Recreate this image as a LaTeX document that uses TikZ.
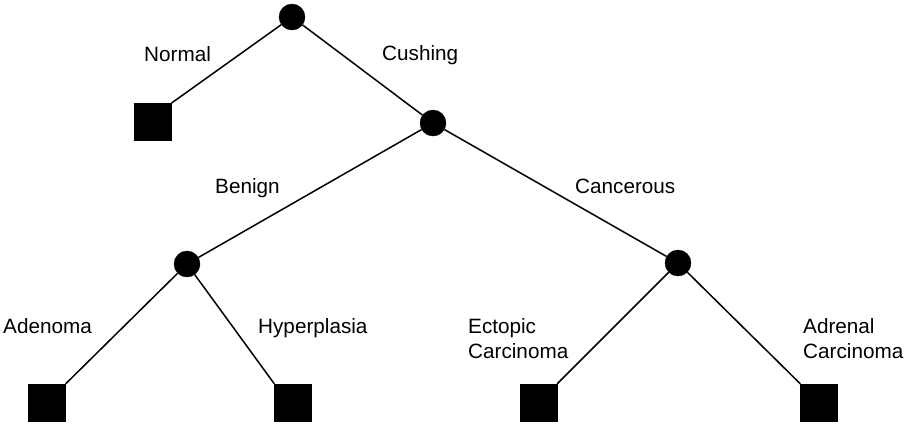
\documentclass[tikz,border=0pt]{standalone}
\usepackage{fontspec}
\setmainfont{Liberation Sans}
\begin{document}
\begin{tikzpicture}[x=1pt,y=-1pt,
  chance/.style={circle,fill=black,draw=black,minimum size=26pt,inner sep=0pt},
  outcome/.style={rectangle,fill=black,draw=black,minimum size=37pt,inner sep=0pt},
  branch/.style={draw=black,line width=1.5pt},
  lbl/.style={inner sep=0pt,font=\fontsize{20.7}{25}\selectfont},
  lbl2/.style={lbl,align=left,anchor=north west}]
\useasboundingbox (0,0) rectangle (908,424);

% chance nodes
\node[chance] (root) at (292,17) {};
\node[chance] (cush) at (433,123) {};
\node[chance] (ben) at (187,264) {};
\node[chance] (canc) at (678,263) {};

% terminal outcomes
\node[outcome] (norm) at (152.5,122) {};
\node[outcome] (aden) at (47,402.5) {};
\node[outcome] (hyper) at (293,402.5) {};
\node[outcome] (ecto) at (538.5,402.5) {};
\node[outcome] (adre) at (819,402.5) {};

% branches
\draw[branch] (root) -- (norm.north east);
\draw[branch] (root) -- (cush);
\draw[branch] (cush) -- (ben);
\draw[branch] (cush) -- (canc);
\draw[branch] (ben) -- (aden.north east);
\draw[branch] (ben) -- (hyper.north west);
\draw[branch] (canc) -- (ecto.north east);
\draw[branch] (canc) -- (adre.north west);

% branch labels
\node[lbl,anchor=base west] (tnorm) at (144,61) {Normal};
\node[lbl,anchor=base west] (tcush) at (382,60) {Cushing};
\node[lbl,anchor=base west] (tben) at (215,193) {Benign};
\node[lbl,anchor=base west] (tcanc) at (575,193) {Cancerous};
\node[lbl,anchor=base west] (taden) at (3,333) {Adenoma};
\node[lbl,anchor=base west] (thyper) at (258,333) {Hyperplasia};
\node[lbl2] (tecto) at (468,318.2) {Ectopic\\Carcinoma};
\node[lbl2] (tadre) at (803,318.2) {Adrenal\\Carcinoma};
\end{tikzpicture}
\end{document}
